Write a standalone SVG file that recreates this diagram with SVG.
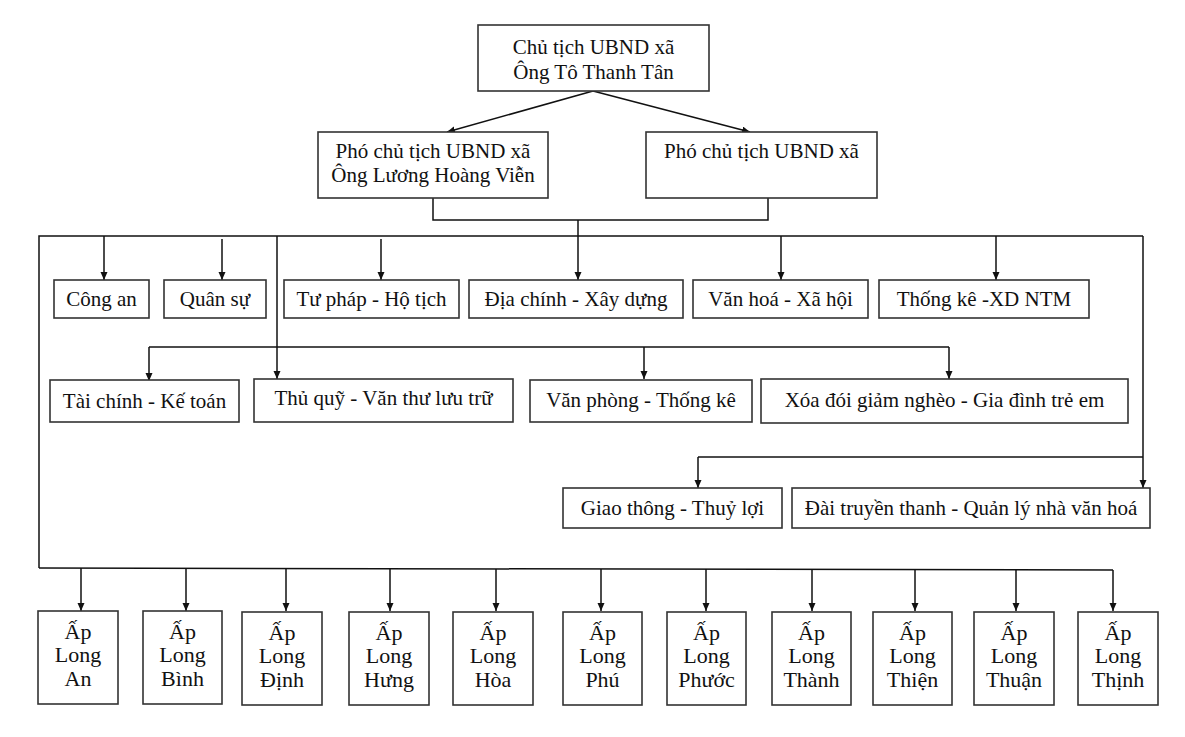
<svg xmlns="http://www.w3.org/2000/svg" width="1185" height="737" viewBox="0 0 1185 737">
<defs>
<marker id="ah" markerUnits="userSpaceOnUse" markerWidth="8" markerHeight="8" refX="8" refY="3.5" orient="auto">
<path d="M0,0 L8,3.5 L0,7 z" fill="#111"/>
</marker>
<style>
.box{fill:#fff;stroke:#333;stroke-width:1.6}
.t{font-family:"Liberation Serif","Times New Roman",serif;font-size:21px;fill:#111;text-anchor:middle}
.ap{font-family:"Liberation Serif","Times New Roman",serif;font-size:22px;fill:#111;text-anchor:middle}
.ln{fill:none;stroke:#111;stroke-width:1.5}
.ar{fill:none;stroke:#111;stroke-width:1.5;marker-end:url(#ah)}
</style>
</defs>
<rect width="1185" height="737" fill="#fff"/>
<g id="connectors">
<line class="ar" x1="593" y1="91" x2="447" y2="132"/>
<line class="ar" x1="593" y1="91" x2="750" y2="132"/>
<polyline class="ln" points="433,198 433,220 768,220 768,198"/>
<line class="ar" x1="578" y1="220" x2="578" y2="280"/>
<polyline class="ln" points="39,568 39,236 1143,236"/>
<line class="ar" x1="1143" y1="236" x2="1143" y2="488"/>
<line class="ar" x1="104" y1="236" x2="104" y2="280"/>
<line class="ar" x1="222" y1="239" x2="222" y2="280"/>
<line class="ar" x1="381" y1="239" x2="381" y2="280"/>
<line class="ar" x1="781" y1="236" x2="781" y2="280"/>
<line class="ar" x1="996" y1="236" x2="996" y2="280"/>
<line class="ar" x1="277" y1="236" x2="277" y2="379"/>
<line class="ln" x1="149" y1="347" x2="949" y2="347"/>
<line class="ar" x1="149" y1="347" x2="149" y2="381"/>
<line class="ar" x1="644" y1="347" x2="644" y2="379"/>
<line class="ar" x1="949" y1="347" x2="949" y2="379"/>
<line class="ln" x1="698" y1="457" x2="1143" y2="457"/>
<line class="ar" x1="698" y1="457" x2="698" y2="488"/>
<line class="ln" x1="39" y1="568" x2="1113" y2="570"/>
<line class="ar" x1="81" y1="568" x2="81" y2="611"/>
<line class="ar" x1="186" y1="568" x2="186" y2="611"/>
<line class="ar" x1="286" y1="568" x2="286" y2="611"/>
<line class="ar" x1="390" y1="569" x2="390" y2="611"/>
<line class="ar" x1="496" y1="569" x2="496" y2="611"/>
<line class="ar" x1="601" y1="569" x2="601" y2="611"/>
<line class="ar" x1="706" y1="569" x2="706" y2="611"/>
<line class="ar" x1="812" y1="569" x2="812" y2="611"/>
<line class="ar" x1="915" y1="570" x2="915" y2="611"/>
<line class="ar" x1="1016" y1="570" x2="1016" y2="611"/>
<line class="ar" x1="1113" y1="570" x2="1113" y2="611"/>
</g>
<g id="chutich"><rect class="box" x="478" y="25" width="231" height="66"/><text class="t" x="593.5" y="54">Chủ tịch UBND xã</text><text class="t" x="593.5" y="79">Ông Tô Thanh Tân</text></g>
<g id="phochutich1"><rect class="box" x="318" y="132" width="230" height="66"/><text class="t" x="433" y="158">Phó chủ tịch UBND xã</text><text class="t" x="433" y="182">Ông Lương Hoàng Viễn</text></g>
<g id="phochutich2"><rect class="box" x="646" y="132" width="231" height="66"/><text class="t" x="761.5" y="158">Phó chủ tịch UBND xã</text></g>
<g id="congan"><rect class="box" x="54" y="280" width="95" height="38"/><text class="t" x="101.5" y="306">Công an</text></g>
<g id="quansu"><rect class="box" x="164" y="280" width="102" height="38"/><text class="t" x="215" y="306">Quân sự</text></g>
<g id="tuphap"><rect class="box" x="284" y="280" width="175" height="38"/><text class="t" x="371.5" y="306">Tư pháp - Hộ tịch</text></g>
<g id="diachinh"><rect class="box" x="469" y="280" width="214" height="38"/><text class="t" x="576" y="306">Địa chính - Xây dựng</text></g>
<g id="vanhoa"><rect class="box" x="693" y="280" width="175" height="38"/><text class="t" x="780.5" y="306">Văn hoá - Xã hội</text></g>
<g id="thongke"><rect class="box" x="879" y="280" width="210" height="38"/><text class="t" x="984" y="306">Thống kê -XD NTM</text></g>
<g id="taichinh"><rect class="box" x="50" y="380" width="189" height="42"/><text class="t" x="144.5" y="408">Tài chính - Kế toán</text></g>
<g id="thuquy"><rect class="box" x="254" y="379" width="259" height="43"/><text class="t" x="383.5" y="405">Thủ quỹ - Văn thư lưu trữ</text></g>
<g id="vanphong"><rect class="box" x="530" y="380" width="222" height="42"/><text class="t" x="641" y="407">Văn phòng - Thống kê</text></g>
<g id="xoadoi"><rect class="box" x="761" y="379" width="367" height="44"/><text class="t" x="944.5" y="407">Xóa đói giảm nghèo - Gia đình trẻ em</text></g>
<g id="giaothong"><rect class="box" x="563" y="488" width="219" height="40"/><text class="t" x="672.5" y="515">Giao thông - Thuỷ lợi</text></g>
<g id="daitruyenthanh"><rect class="box" x="792" y="488" width="358" height="40"/><text class="t" x="971" y="515">Đài truyền thanh - Quản lý nhà văn hoá</text></g>
<g id="ap-longan"><rect class="box" x="38" y="611" width="80" height="93"/><text class="ap" x="78" y="639">Ấp</text><text class="ap" x="78" y="662">Long</text><text class="ap" x="78" y="686">An</text></g>
<g id="ap-longbinh"><rect class="box" x="143" y="611" width="79" height="93"/><text class="ap" x="182.5" y="639">Ấp</text><text class="ap" x="182.5" y="662">Long</text><text class="ap" x="182.5" y="686">Bình</text></g>
<g id="ap-longdinh"><rect class="box" x="242" y="612" width="80" height="93"/><text class="ap" x="282" y="640">Ấp</text><text class="ap" x="282" y="663">Long</text><text class="ap" x="282" y="687">Định</text></g>
<g id="ap-longhung"><rect class="box" x="349" y="612" width="80" height="93"/><text class="ap" x="389" y="640">Ấp</text><text class="ap" x="389" y="663">Long</text><text class="ap" x="389" y="687">Hưng</text></g>
<g id="ap-longhoa"><rect class="box" x="453" y="612" width="80" height="93"/><text class="ap" x="493" y="640">Ấp</text><text class="ap" x="493" y="663">Long</text><text class="ap" x="493" y="687">Hòa</text></g>
<g id="ap-longphu"><rect class="box" x="563" y="612" width="79" height="93"/><text class="ap" x="602.5" y="640">Ấp</text><text class="ap" x="602.5" y="663">Long</text><text class="ap" x="602.5" y="687">Phú</text></g>
<g id="ap-longphuoc"><rect class="box" x="667" y="612" width="79" height="93"/><text class="ap" x="706.5" y="640">Ấp</text><text class="ap" x="706.5" y="663">Long</text><text class="ap" x="706.5" y="687">Phước</text></g>
<g id="ap-longthanh"><rect class="box" x="772" y="612" width="79" height="93"/><text class="ap" x="811.5" y="640">Ấp</text><text class="ap" x="811.5" y="663">Long</text><text class="ap" x="811.5" y="687">Thành</text></g>
<g id="ap-longthien"><rect class="box" x="873" y="612" width="79" height="93"/><text class="ap" x="912.5" y="640">Ấp</text><text class="ap" x="912.5" y="663">Long</text><text class="ap" x="912.5" y="687">Thiện</text></g>
<g id="ap-longthuan"><rect class="box" x="974" y="612" width="80" height="93"/><text class="ap" x="1014" y="640">Ấp</text><text class="ap" x="1014" y="663">Long</text><text class="ap" x="1014" y="687">Thuận</text></g>
<g id="ap-longthinh"><rect class="box" x="1078" y="612" width="80" height="93"/><text class="ap" x="1118" y="640">Ấp</text><text class="ap" x="1118" y="663">Long</text><text class="ap" x="1118" y="687">Thịnh</text></g>
</svg>
